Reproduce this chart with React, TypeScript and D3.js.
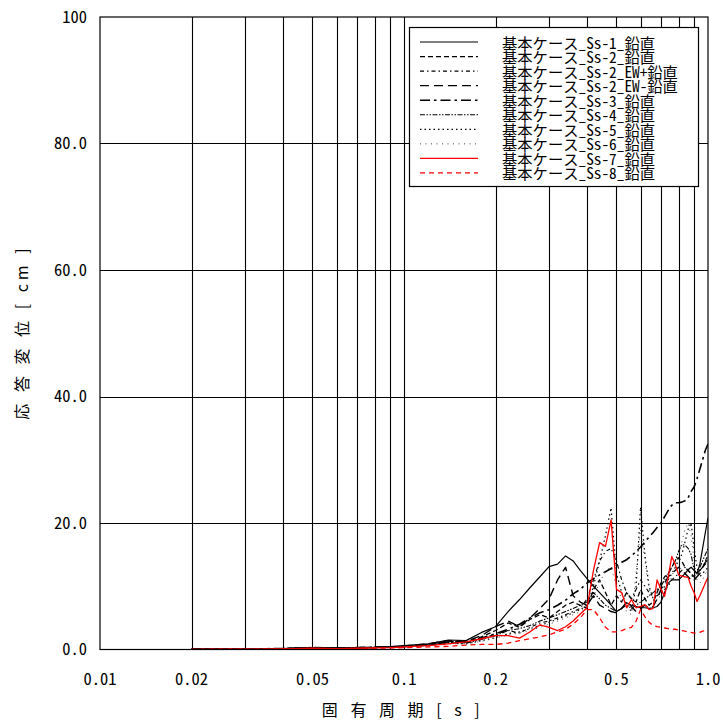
import React from "react";
import * as d3 from "d3";

const periods = [0.02,0.03,0.04,0.05,0.06,0.07,0.08,0.09,0.10,0.12,0.14,0.16,0.18,0.20,0.22,0.24,0.26,0.28,0.30,0.32,0.34,0.36,0.38,0.40,0.42,0.44,0.46,0.48,0.50,0.52,0.54,0.56,0.58,0.60,0.62,0.64,0.66,0.68,0.70,0.72,0.74,0.76,0.78,0.80,0.82,0.84,0.86,0.88,0.90,0.92,0.94,0.96,0.98,1.00];

const ss1 = [0.05,0.1,0.15,0.3,0.25,0.3,0.35,0.45,0.6,0.9,1.5,1.4,2.7,3.6,6.0,7.9,9.8,11.5,13.1,13.5,14.8,14.0,12.5,11.2,10.0,9.0,8.0,7.0,6.0,6.5,7.4,7.0,6.8,6.6,6.6,6.5,6.6,6.8,7.5,9.0,10.5,11.0,11.0,11.0,11.5,12.0,12.6,13.0,12.5,12.0,13.5,16.0,18.5,20.8];
const ss2 = [0.05,0.1,0.15,0.3,0.25,0.3,0.35,0.4,0.5,0.8,1.3,1.2,2.0,3.0,4.2,3.5,4.8,5.5,5.0,6.0,7.0,7.5,7.0,6.5,9.5,11.0,9.0,7.0,8.5,7.5,9.0,8.0,7.5,9.5,8.0,7.0,7.5,9.0,10.5,11.5,12.0,13.0,14.0,14.5,14.0,13.0,12.5,12.0,11.5,12.0,12.5,13.0,13.5,14.0];
const ss2ewPlus = [0.05,0.1,0.15,0.25,0.2,0.25,0.3,0.35,0.45,0.7,1.1,1.1,1.8,2.4,3.0,2.6,3.5,4.2,4.5,5.0,5.5,6.0,6.5,8.0,11.0,14.0,15.5,16.0,14.0,11.0,9.0,8.0,9.5,11.0,10.0,9.0,8.5,8.5,9.0,9.5,10.0,11.0,11.5,12.0,12.5,13.0,12.5,12.0,11.0,11.5,12.5,13.0,14.0,15.0];
const ss2ewMinus = [0.05,0.1,0.15,0.3,0.25,0.3,0.35,0.4,0.55,0.9,1.4,1.3,2.2,3.6,4.5,3.6,5.0,6.5,8.0,11.0,13.0,8.5,7.5,7.0,8.5,7.0,6.5,6.0,5.8,6.5,7.5,6.8,6.0,6.5,7.0,6.6,6.8,8.0,9.5,10.5,11.5,12.0,12.5,13.0,12.5,12.0,11.5,11.0,11.0,11.5,12.0,13.0,13.8,14.2];
const ss3 = [0.05,0.1,0.15,0.3,0.25,0.3,0.35,0.4,0.5,0.8,1.2,1.2,1.8,2.5,3.2,4.0,5.0,5.8,6.3,7.0,7.8,8.8,9.5,10.5,11.2,11.8,12.3,12.8,13.3,13.8,14.2,14.8,15.5,16.2,17.0,17.8,18.5,19.3,20.0,21.0,22.0,22.8,23.2,23.2,23.3,23.5,24.0,25.0,25.7,27.0,28.5,30.0,31.5,32.5];
const ss4 = [0.05,0.1,0.15,0.25,0.2,0.25,0.3,0.35,0.45,0.7,1.1,1.0,1.6,2.2,3.0,3.3,3.8,4.5,5.0,5.5,6.0,6.5,7.0,7.5,9.0,8.0,7.0,6.5,6.0,6.5,7.0,6.5,7.0,7.5,8.0,8.5,9.0,9.5,10.0,11.0,12.0,13.0,14.0,15.5,16.6,16.5,16.0,15.0,12.6,12.0,13.0,14.0,15.0,16.0];
const ss5 = [0.05,0.1,0.15,0.25,0.2,0.25,0.3,0.35,0.4,0.6,1.0,0.9,1.4,1.9,2.5,2.8,3.3,3.8,4.3,4.8,5.3,5.8,6.3,7.0,10.0,14.0,18.0,22.4,12.0,9.0,7.0,6.0,10.0,22.5,15.0,10.0,8.0,8.5,9.0,10.0,11.0,12.0,13.0,14.0,15.0,17.0,19.0,20.0,16.0,13.0,11.5,12.0,12.5,13.0];
const ss6 = [0.05,0.1,0.15,0.25,0.2,0.25,0.3,0.35,0.4,0.6,0.9,0.9,1.3,1.8,2.3,2.6,3.0,3.5,4.0,4.5,5.0,5.5,6.0,6.8,8.5,10.5,12.5,13.0,10.0,8.0,6.0,5.5,12.0,19.0,14.0,9.5,8.0,8.0,8.5,9.0,10.0,11.5,13.0,15.0,17.0,19.0,20.0,18.0,14.0,11.0,10.5,11.0,12.0,12.5];
const ss7 = [0.03,0.06,0.1,0.2,0.15,0.2,0.25,0.3,0.4,0.6,0.9,1.2,1.7,2.2,2.2,1.8,2.8,3.9,3.5,3.0,3.6,4.5,5.6,6.6,12.5,16.9,16.3,20.5,9.5,9.0,6.6,7.9,6.6,6.8,7.1,6.3,6.5,11.0,9.5,8.4,11.5,14.7,13.5,11.8,11.6,11.5,11.4,10.0,9.0,7.6,8.5,9.5,10.5,11.4];
const ss8 = [0.03,0.05,0.08,0.15,0.12,0.15,0.2,0.25,0.3,0.4,0.5,0.7,0.8,0.8,1.0,1.4,1.7,2.0,2.3,2.8,3.2,4.0,5.0,6.3,6.3,5.0,3.5,2.8,2.8,3.0,3.3,3.5,4.5,6.3,5.2,4.3,3.8,3.6,3.5,3.4,3.3,3.2,3.2,3.1,3.0,2.9,2.8,2.7,2.6,2.6,2.7,2.9,3.0,3.2];

const legendLabels = [
  "基本ケース_Ss-1_鉛直",
  "基本ケース_Ss-2_鉛直",
  "基本ケース_Ss-2_EW+鉛直",
  "基本ケース_Ss-2_EW-鉛直",
  "基本ケース_Ss-3_鉛直",
  "基本ケース_Ss-4_鉛直",
  "基本ケース_Ss-5_鉛直",
  "基本ケース_Ss-6_鉛直",
  "基本ケース_Ss-7_鉛直",
  "基本ケース_Ss-8_鉛直",
];

const xTickLabels = [0.01, 0.02, 0.05, 0.1, 0.2, 0.5, 1.0];
const xTickText = ["0.01", "0.02", "0.05", "0.1", "0.2", "0.5", "1.0"];
const yTicks = [0, 20, 40, 60, 80, 100];
const yTickText = ["0.0", "20.0", "40.0", "60.0", "80.0", "100"];
const xGrid = [0.02,0.03,0.04,0.05,0.06,0.07,0.08,0.09,0.1,0.2,0.3,0.4,0.5,0.6,0.7,0.8,0.9];

const seriesData = [ss1, ss2, ss2ewPlus, ss2ewMinus, ss3, ss4, ss5, ss6, ss7, ss8];
const styles = [
  { color: "#000", dash: "", w: 1.2 },
  { color: "#000", dash: "5,3", w: 1.3 },
  { color: "#000", dash: "4,3,1.5,3", w: 1.1 },
  { color: "#000", dash: "9,5", w: 1.4 },
  { color: "#000", dash: "10,4,2.5,4", w: 1.6 },
  { color: "#000", dash: "5,1.5,1.5,1.5,1.5,1.5", w: 1.1 },
  { color: "#000", dash: "1.5,3", w: 1.2 },
  { color: "#444", dash: "1,4.5", w: 1.0 },
  { color: "#f00", dash: "", w: 1.3 },
  { color: "#f00", dash: "5,4", w: 1.3 },
];

const MONO = "'Noto Sans Mono CJK JP', 'Noto Sans CJK JP', 'DejaVu Sans Mono', monospace";
const CJK = "'Noto Sans CJK JP', 'Noto Sans Mono CJK JP', sans-serif";

export default function App() {
  const L = 100, R = 708, T = 17, B = 649.5;
  const x = d3.scaleLog().domain([0.01, 1]).range([L, R]);
  const y = d3.scaleLinear().domain([0, 100]).range([B, T]);
  const line = d3.line<number>().x((_, i) => x(periods[i])).y((d) => y(d));

  const lgX = 409, lgY = 27, lgW = 289, lgH = 159;
  const rowY0 = 42, rowStep = 14.55;

  return (
    <svg width={723} height={720} style={{ position: "absolute", left: 0, top: 0, background: "#fff" }}>
      <defs>
        <clipPath id="plot">
          <rect x={L} y={T} width={R - L} height={B - T} />
        </clipPath>
      </defs>
      <rect x={0} y={0} width={723} height={720} fill="#fff" />
      {xGrid.map((g) => (
        <line key={"xg" + g} x1={Math.round(x(g)) + 0.5} x2={Math.round(x(g)) + 0.5} y1={T} y2={B} stroke="#000" strokeWidth={1.1} />
      ))}
      {yTicks.slice(1, -1).map((t) => (
        <line key={"yg" + t} x1={L} x2={R} y1={Math.round(y(t)) + 0.5} y2={Math.round(y(t)) + 0.5} stroke="#000" strokeWidth={1.1} />
      ))}
      <g clipPath="url(#plot)">
        {seriesData.map((d, i) => (
          <path key={"s" + i} d={line(d) || ""} fill="none" stroke={styles[i].color} strokeWidth={styles[i].w} strokeDasharray={styles[i].dash || undefined} strokeLinejoin="round" />
        ))}
      </g>
      <rect x={L} y={T} width={R - L} height={B - T} fill="none" stroke="#000" strokeWidth={1.2} />
      {yTicks.map((t, i) => (
        <text key={"yt" + t} x={87} y={y(t)} dy="0.36em" textAnchor="end" fontFamily={MONO} fontSize={16.5} fill="#000">
          {yTickText[i]}
        </text>
      ))}
      {xTickLabels.map((t, i) => (
        <text key={"xt" + t} x={x(t)} y={685} textAnchor="middle" fontFamily={MONO} fontSize={16.5} fill="#000">
          {xTickText[i]}
        </text>
      ))}
      <text x={403} y={716} textAnchor="middle" fontFamily={CJK} fontSize={16} fill="#000" style={{ whiteSpace: "pre" }} letterSpacing={4.5}>
        {"固 有 周 期 [ s ]"}
      </text>
      <text transform="translate(28,332) rotate(-90)" textAnchor="middle" fontFamily={CJK} fontSize={16} fill="#000" style={{ whiteSpace: "pre" }} letterSpacing={4}>
        {"応 答 変 位 [ cm ]"}
      </text>
      <rect x={lgX + 0.5} y={lgY + 0.5} width={lgW} height={lgH} fill="#fff" stroke="#000" strokeWidth={1.2} />
      {legendLabels.map((lab, i) => {
        const ry = rowY0 + i * rowStep;
        return (
          <g key={"lg" + i}>
            <line x1={420} x2={478} y1={ry} y2={ry} stroke={styles[i].color} strokeWidth={styles[i].w} strokeDasharray={styles[i].dash || undefined} />
            <text x={502} y={ry + 6.5} fontFamily={MONO} fontSize={15.3} fill="#000">
              {lab}
            </text>
          </g>
        );
      })}
    </svg>
  );
}
